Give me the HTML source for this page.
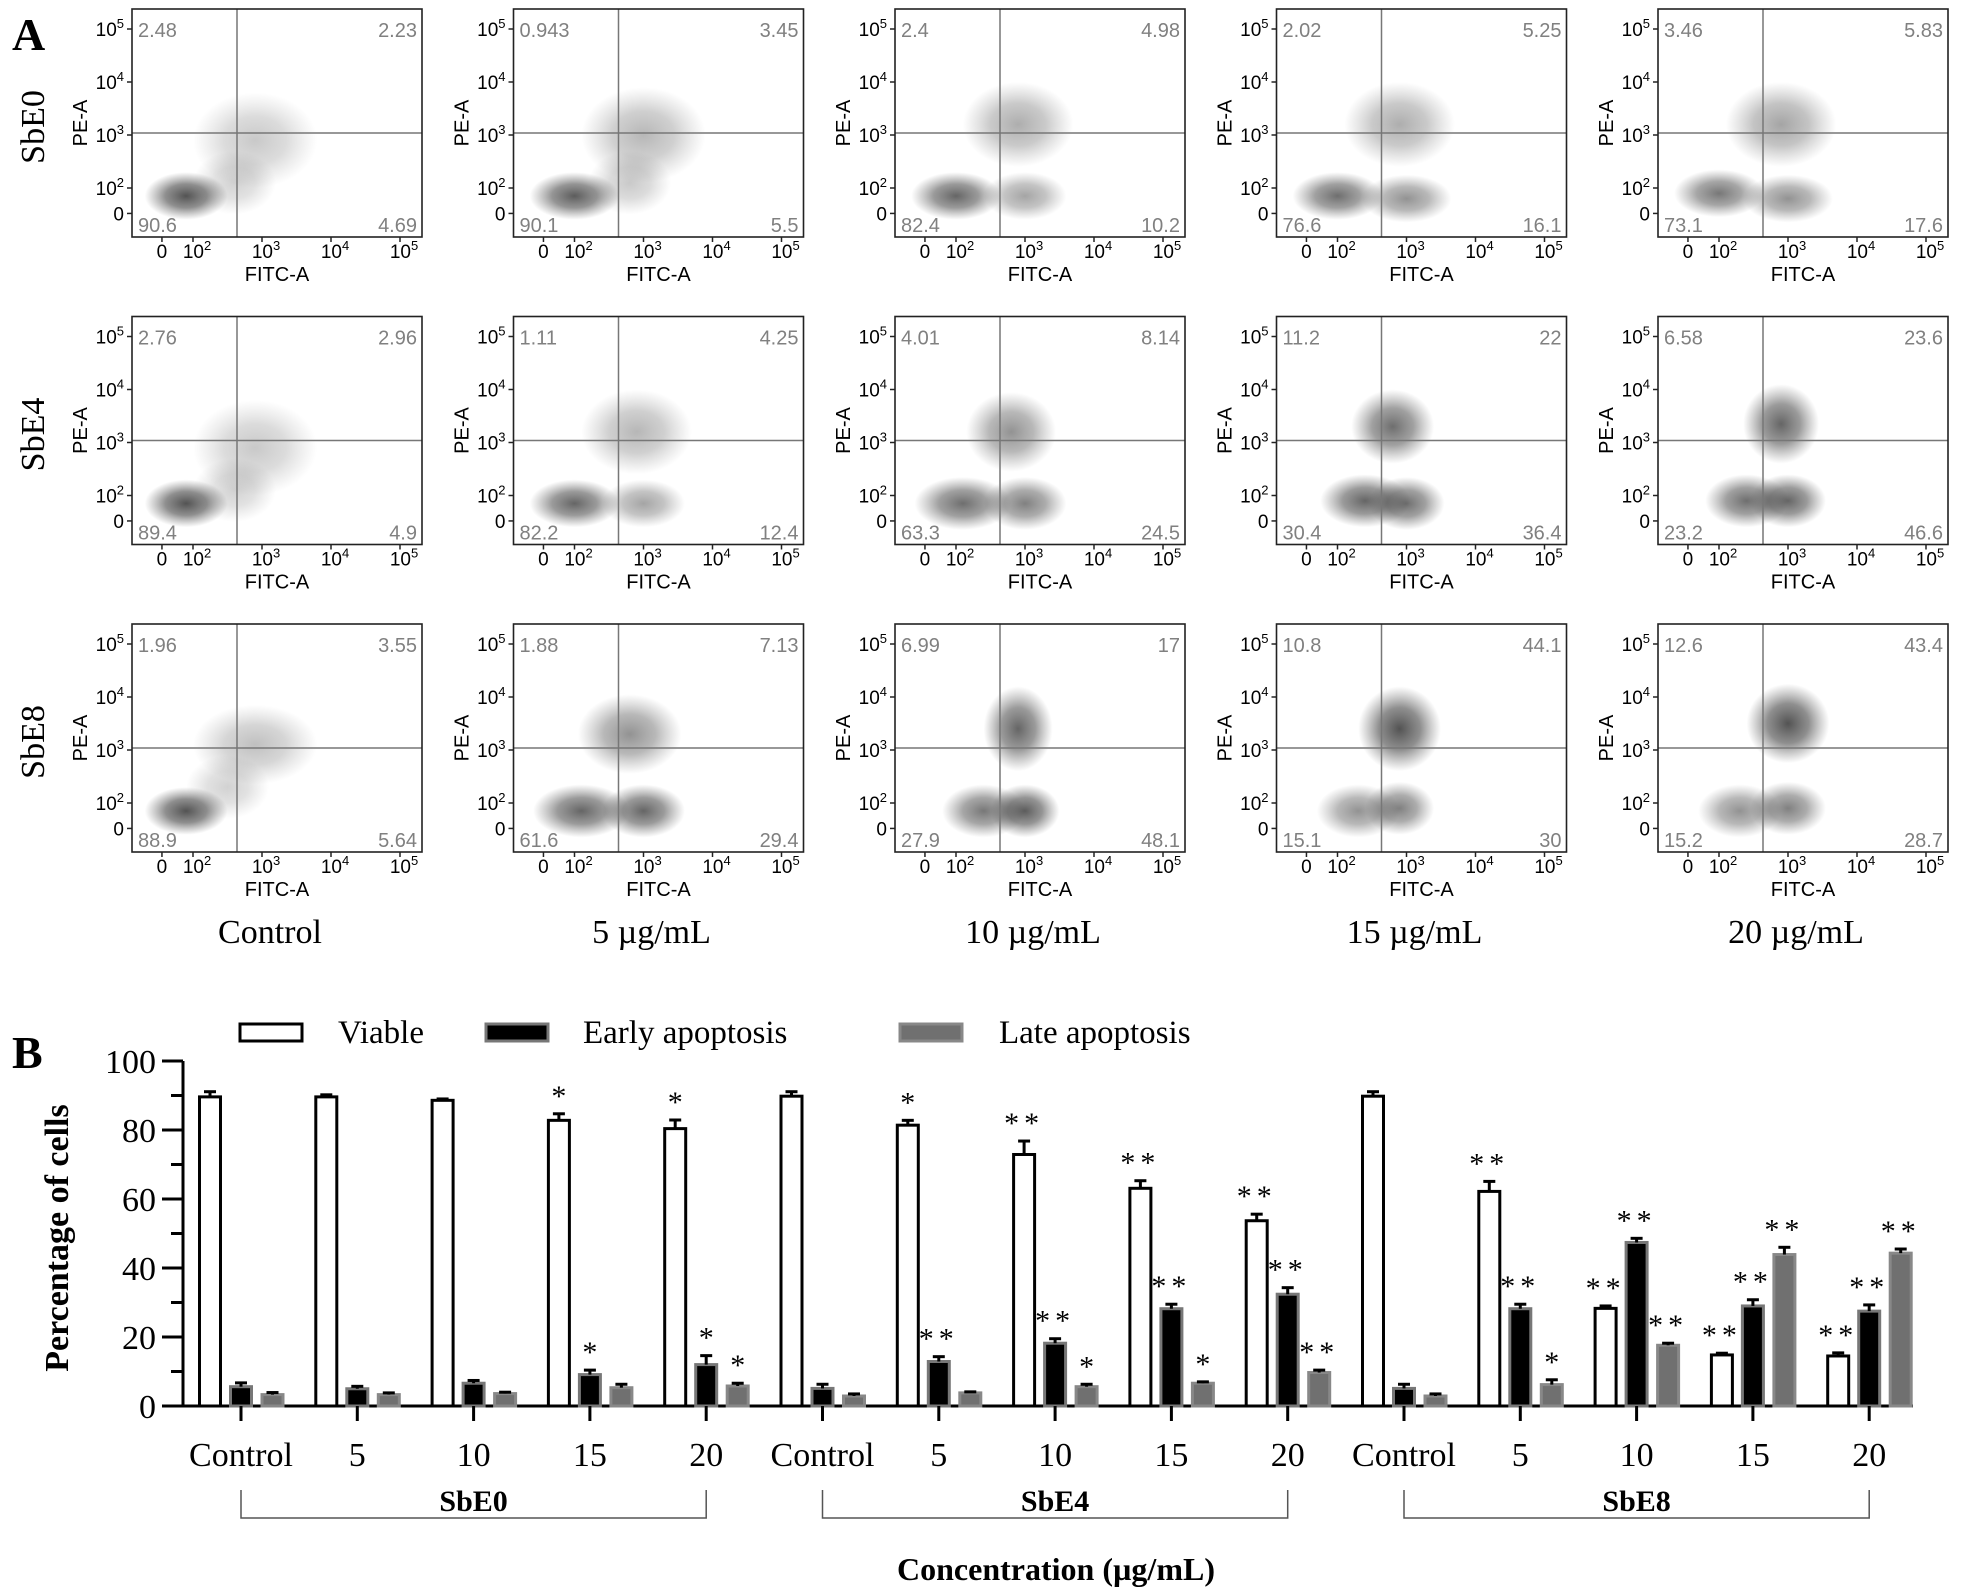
<!DOCTYPE html>
<html><head><meta charset="utf-8"><style>
html,body{margin:0;padding:0;background:#fff;}
svg{display:block;}
</style></head><body>
<svg id="fig" width="1970" height="1592" viewBox="0 0 1970 1592" xmlns="http://www.w3.org/2000/svg">
<defs>
<radialGradient id="blob"><stop offset="0" stop-color="#2a2a2a" stop-opacity="0.85"/><stop offset="0.5" stop-color="#3a3a3a" stop-opacity="0.6"/><stop offset="1" stop-color="#555" stop-opacity="0"/></radialGradient>
<pattern id="dots" width="4" height="4" patternUnits="userSpaceOnUse"><rect width="4" height="4" fill="#fff"/><rect x="0" y="0" width="2" height="2" fill="#000"/><rect x="2" y="2" width="1" height="1" fill="#000"/></pattern>
<mask id="dotmask" maskUnits="userSpaceOnUse" x="0" y="0" width="1970" height="1592"><rect width="1970" height="1592" fill="url(#dots)"/></mask>
</defs>
<text x="12" y="50" font-family="Liberation Serif, serif" font-weight="bold" font-size="46">A</text>
<text x="12" y="1068" font-family="Liberation Serif, serif" font-weight="bold" font-size="46">B</text>
<g id="panelA"></g>
<g id="panelB"></g>
</svg>
<script>
// ---------- Panel A data ----------
const rowNames = ["SbE0","SbE4","SbE8"];
const colNames = ["Control","5 µg/mL","10 µg/mL","15 µg/mL","20 µg/mL"];
// quadrant percentages [UL, UR, LL, LR]
const quadVals = [
 [["2.48","2.23","90.6","4.69"],["0.943","3.45","90.1","5.5"],["2.4","4.98","82.4","10.2"],["2.02","5.25","76.6","16.1"],["3.46","5.83","73.1","17.6"]],
 [["2.76","2.96","89.4","4.9"],["1.11","4.25","82.2","12.4"],["4.01","8.14","63.3","24.5"],["11.2","22","30.4","36.4"],["6.58","23.6","23.2","46.6"]],
 [["1.96","3.55","88.9","5.64"],["1.88","7.13","61.6","29.4"],["6.99","17","27.9","48.1"],["10.8","44.1","15.1","30"],["12.6","43.4","15.2","28.7"]]
];
// clusters: [log x center, log y center, log rx, log ry, opacity]
const clusters = [
 [
  [[1.9,1.85,0.6,0.45,0.95],[2.9,2.9,0.9,0.9,0.3],[2.6,2.1,0.6,0.6,0.25]],
  [[2.0,1.85,0.65,0.45,0.9],[3.0,3.0,0.9,0.9,0.4],[2.8,2.1,0.6,0.6,0.3]],
  [[2.0,1.85,0.65,0.45,0.85],[3.0,1.85,0.6,0.45,0.5],[2.9,3.2,0.8,0.8,0.45]],
  [[2.0,1.85,0.65,0.45,0.8],[3.0,1.8,0.65,0.45,0.6],[2.9,3.2,0.8,0.8,0.45]],
  [[2.0,1.9,0.65,0.45,0.75],[3.0,1.8,0.65,0.45,0.6],[2.9,3.2,0.8,0.8,0.5]]
 ],
 [
  [[1.9,1.85,0.6,0.45,0.95],[2.9,2.9,0.9,0.9,0.3],[2.6,2.1,0.6,0.6,0.25]],
  [[2.0,1.85,0.65,0.45,0.85],[3.0,1.85,0.6,0.45,0.5],[2.9,3.2,0.8,0.8,0.4]],
  [[2.1,1.85,0.7,0.5,0.8],[3.0,1.85,0.6,0.5,0.7],[2.8,3.2,0.65,0.75,0.6]],
  [[2.4,1.9,0.65,0.5,0.85],[3.0,1.85,0.55,0.5,0.8],[2.8,3.3,0.6,0.7,0.8]],
  [[2.4,1.9,0.6,0.5,0.8],[3.0,1.9,0.55,0.5,0.85],[2.9,3.35,0.55,0.75,0.85]]
 ],
 [
  [[1.9,1.85,0.6,0.45,0.95],[2.9,3.1,0.9,0.75,0.35],[2.5,2.3,0.6,0.6,0.25]],
  [[2.1,1.85,0.7,0.5,0.85],[3.0,1.85,0.6,0.5,0.85],[2.8,3.3,0.75,0.75,0.6]],
  [[2.4,1.85,0.6,0.5,0.75],[3.0,1.85,0.5,0.5,0.9],[2.9,3.4,0.5,0.8,0.85]],
  [[2.3,1.85,0.6,0.5,0.6],[2.9,1.9,0.5,0.5,0.7],[2.9,3.4,0.6,0.8,0.95]],
  [[2.3,1.85,0.6,0.5,0.6],[3.0,1.9,0.55,0.5,0.7],[3.0,3.5,0.6,0.75,0.95]]
 ]
];
const xTickLabels = ["0","2","3","4","5"];
const yTickLabels = ["5","4","3","2","0"];

const NS="http://www.w3.org/2000/svg";
function mk(tag, attrs, parent){const e=document.createElementNS(NS,tag);for(const k in attrs)e.setAttribute(k,attrs[k]);if(parent)parent.appendChild(e);return e;}
const PW=290, PH=228;
const lx = d => 61 + (d-2)*69;
const ly = d => 179 - (d-2)*53;
const xTickLog=[1.55,2,3,4,5], yTickLog=[5,4,3,2,1.52];
const A=document.getElementById('panelA');
for(let r=0;r<3;r++){
  const top=9+r*307.5;
  const rl=mk('text',{x:0,y:0,transform:`translate(44,${top+118}) rotate(-90)`,'text-anchor':'middle','font-family':'Liberation Serif, serif','font-size':'34'},A);
  rl.textContent=rowNames[r];
  
  
  for(let c=0;c<5;c++){
    const left=132+c*381.5;
    const g=mk('g',{transform:`translate(${left},${top})`},A);
    
    
    const cg=mk('g',{clip:'auto'},g);
    for(const cl of clusters[r][c]){
      const e=mk('ellipse',{cx:lx(cl[0]),cy:ly(cl[1]),rx:cl[2]*69,ry:cl[3]*53,fill:'url(#blob)',opacity:cl[4]},cg);
      
      
    }
    const qx=105, qy=124;
    const vl=mk('line',{x1:qx,y1:0,x2:qx,y2:PH,stroke:'#777','stroke-width':1.5},g);
    
    
    const hl=mk('line',{x1:0,y1:qy,x2:PW,y2:qy,stroke:'#777','stroke-width':1.5},g);
    
    
    const fr=mk('rect',{x:0,y:0,width:PW,height:PH,fill:'none',stroke:'#222','stroke-width':1.6},g);
    
    
    const q=quadVals[r][c];
    const qpos=[[6,28,'start'],[PW-5,28,'end'],[6,PH-5,'start'],[PW-5,PH-5,'end']];
    for(let i=0;i<4;i++){
      const t=mk('text',{x:qpos[i][0],y:qpos[i][1],'text-anchor':qpos[i][2],'font-family':'Liberation Sans, sans-serif','font-size':'20',fill:'#808080'},g);
      t.textContent=q[i];
      
      
    }
    for(let i=0;i<5;i++){
      const y=ly(yTickLog[i]);
      mk('line',{x1:-5,y1:y,x2:0,y2:y,stroke:'#222','stroke-width':1.5},g);
      const t=mk('text',{x:-8,y:y+7,'text-anchor':'end','font-family':'Liberation Sans, sans-serif','font-size':'19'},g);
      if(yTickLabels[i]==="0"){t.textContent="0";}
      else{t.textContent="10";const s=mk('tspan',{dy:-8,'font-size':'13'},t);s.textContent=yTickLabels[i];}
      
      
      const x=lx(xTickLog[i]);
      mk('line',{x1:x,y1:PH,x2:x,y2:PH+5,stroke:'#222','stroke-width':1.5},g);
      const tx=mk('text',{x:x+(xTickLabels[i]==="0"?0:4),y:PH+21,'text-anchor':'middle','font-family':'Liberation Sans, sans-serif','font-size':'19'},g);
      if(xTickLabels[i]==="0"){tx.textContent="0";}
      else{tx.textContent="10";const s=mk('tspan',{dy:-8,'font-size':'13'},tx);s.textContent=xTickLabels[i];}
      
      
    }
    const xt=mk('text',{x:145,y:PH+44,'text-anchor':'middle','font-family':'Liberation Sans, sans-serif','font-size':'20'},g);
    xt.textContent="FITC-A";
    
    
    const yt=mk('text',{x:0,y:0,transform:`translate(-45,114) rotate(-90)`,'text-anchor':'middle','font-family':'Liberation Sans, sans-serif','font-size':'20'},g);
    yt.textContent="PE-A";
    
    
  }
}
for(let c=0;c<5;c++){
  const t=mk('text',{x:132+c*381.5+138,y:943,'text-anchor':'middle','font-family':'Liberation Serif, serif','font-size':'34'},A);
  t.textContent=colNames[c];
  
  
}

// ---------- Panel B data ----------
const categories = ["Control","5","10","15","20","Control","5","10","15","20","Control","5","10","15","20"];
const groups = ["SbE0","SbE4","SbE8"];
const viable    = [89.6,89.6,88.6,82.8,80.4, 89.8,81.4,72.9,63.1,53.7, 89.8,62.2,28.3,14.8,14.5];
const viableErr = [1.5,0.6,0.4,1.9,2.5, 1.3,1.4,3.9,2.2,1.9, 1.3,2.9,0.7,0.5,0.9];
const early     = [5.6,5.0,6.6,9.1,12.0, 5.1,12.9,18.2,28.2,32.4, 5.1,28.2,47.4,29.0,27.5];
const earlyErr  = [1.1,0.7,0.8,1.3,2.6, 1.2,1.4,1.3,1.3,1.9, 1.2,1.3,1.2,1.8,1.8];
const late      = [3.3,3.3,3.6,5.3,5.8, 2.9,3.8,5.6,6.6,9.7, 2.9,6.2,17.6,43.9,44.3];
const lateErr   = [0.6,0.5,0.4,1.0,0.8, 0.6,0.3,0.7,0.4,0.7, 0.6,1.4,0.6,2.1,1.2];
const viableSig = ["","","","*","*", "","*","**","**","**", "","**","**","**","**"];
const earlySig  = ["","","","*","*", "","**","**","**","**", "","**","**","**","**"];
const lateSig   = ["","","","","*", "","","*","*","**", "","*","**","**","**"];
const yTicks = [0,20,40,60,80,100];

const B=document.getElementById('panelB');
const X0=183, Y0=1406, YS=3.45;
const yv = v => Y0 - v*YS;
const xc = i => 241 + i*116.3;
const ya=mk('line',{x1:X0,y1:yv(100),x2:X0,y2:Y0+1.5,stroke:'#000','stroke-width':3},B);


const xa=mk('line',{x1:X0,y1:Y0,x2:1913,y2:Y0,stroke:'#000','stroke-width':3},B);


for(let v=0;v<=100;v+=10){
  const major=v%20===0;
  mk('line',{x1:major?162:171,y1:yv(v),x2:X0,y2:yv(v),stroke:'#000','stroke-width':3},B);
}
for(const v of yTicks){
  const t=mk('text',{x:156,y:yv(v)+12,'text-anchor':'end','font-family':'Liberation Serif, serif','font-size':'34'},B);
  t.textContent=String(v);
  
  
}
const ytt=mk('text',{x:0,y:0,transform:'translate(68,1238) rotate(-90)','text-anchor':'middle','font-family':'Liberation Serif, serif','font-weight':'bold','font-size':'34'},B);
ytt.textContent="Percentage of cells";



function bar(i, off, val, err, sig, fill, stroke, name){
  const w=21, x=xc(i)+off-w/2, y=yv(val);
  const rc=mk('rect',{x:x,y:y,width:w,height:Y0-y,fill:fill,stroke:stroke,'stroke-width':3},B);
  
  
  const et=yv(val+err);
  mk('line',{x1:x+w/2,y1:y,x2:x+w/2,y2:et,stroke:'#000','stroke-width':3},B);
  mk('line',{x1:x+w/2-6,y1:et,x2:x+w/2+6,y2:et,stroke:'#000','stroke-width':3},B);
  if(sig){
    const t=mk('text',{x:x+w/2,y:et-8,'text-anchor':'middle','font-family':'Liberation Serif, serif','font-size':'30','letter-spacing':sig.length>1?'5':'0'},B);
    t.textContent=sig;
    
    
  }
}
for(let i=0;i<categories.length;i++){
  bar(i,-31,viable[i],viableErr[i],viableSig[i],'#fff','#000','bar-viable-'+i);
  bar(i,0,early[i],earlyErr[i],earlySig[i],'#000','#777','bar-early-'+i);
  bar(i,31.5,late[i],lateErr[i],lateSig[i],'#707070','#888','bar-late-'+i);
  mk('line',{x1:xc(i),y1:Y0,x2:xc(i),y2:Y0+15,stroke:'#000','stroke-width':3},B);
  const t=mk('text',{x:xc(i),y:1466,'text-anchor':'middle','font-family':'Liberation Serif, serif','font-size':'34'},B);
  t.textContent=categories[i];
  
  
}
for(let gI=0;gI<3;gI++){
  const a=xc(gI*5), b=xc(gI*5+4);
  const p=mk('path',{d:`M${a},1490 V1518 H${b} V1490`,fill:'none',stroke:'#555','stroke-width':1.5},B);
  
  
  const t=mk('text',{x:(a+b)/2,y:1511,'text-anchor':'middle','font-family':'Liberation Serif, serif','font-weight':'bold','font-size':'30'},B);
  t.textContent=groups[gI];
  
  
}
const xt=mk('text',{x:1056,y:1580,'text-anchor':'middle','font-family':'Liberation Serif, serif','font-weight':'bold','font-size':'32'},B);
xt.textContent="Concentration (µg/mL)";


const legendLabels=["Viable","Early apoptosis","Late apoptosis"];
const legFill=['#fff','#000','#707070'], legStroke=['#000','#777','#888'], legX=[240,486,900], legTX=[338,583,999];
for(let i=0;i<3;i++){
  const r=mk('rect',{x:legX[i],y:1024,width:62,height:17,fill:legFill[i],stroke:legStroke[i],'stroke-width':3},B);
  
  
  const t=mk('text',{x:legTX[i],y:1043,'font-family':'Liberation Serif, serif','font-size':'33'},B);
  t.textContent=legendLabels[i];
  
  
}
</script>
</body></html>
